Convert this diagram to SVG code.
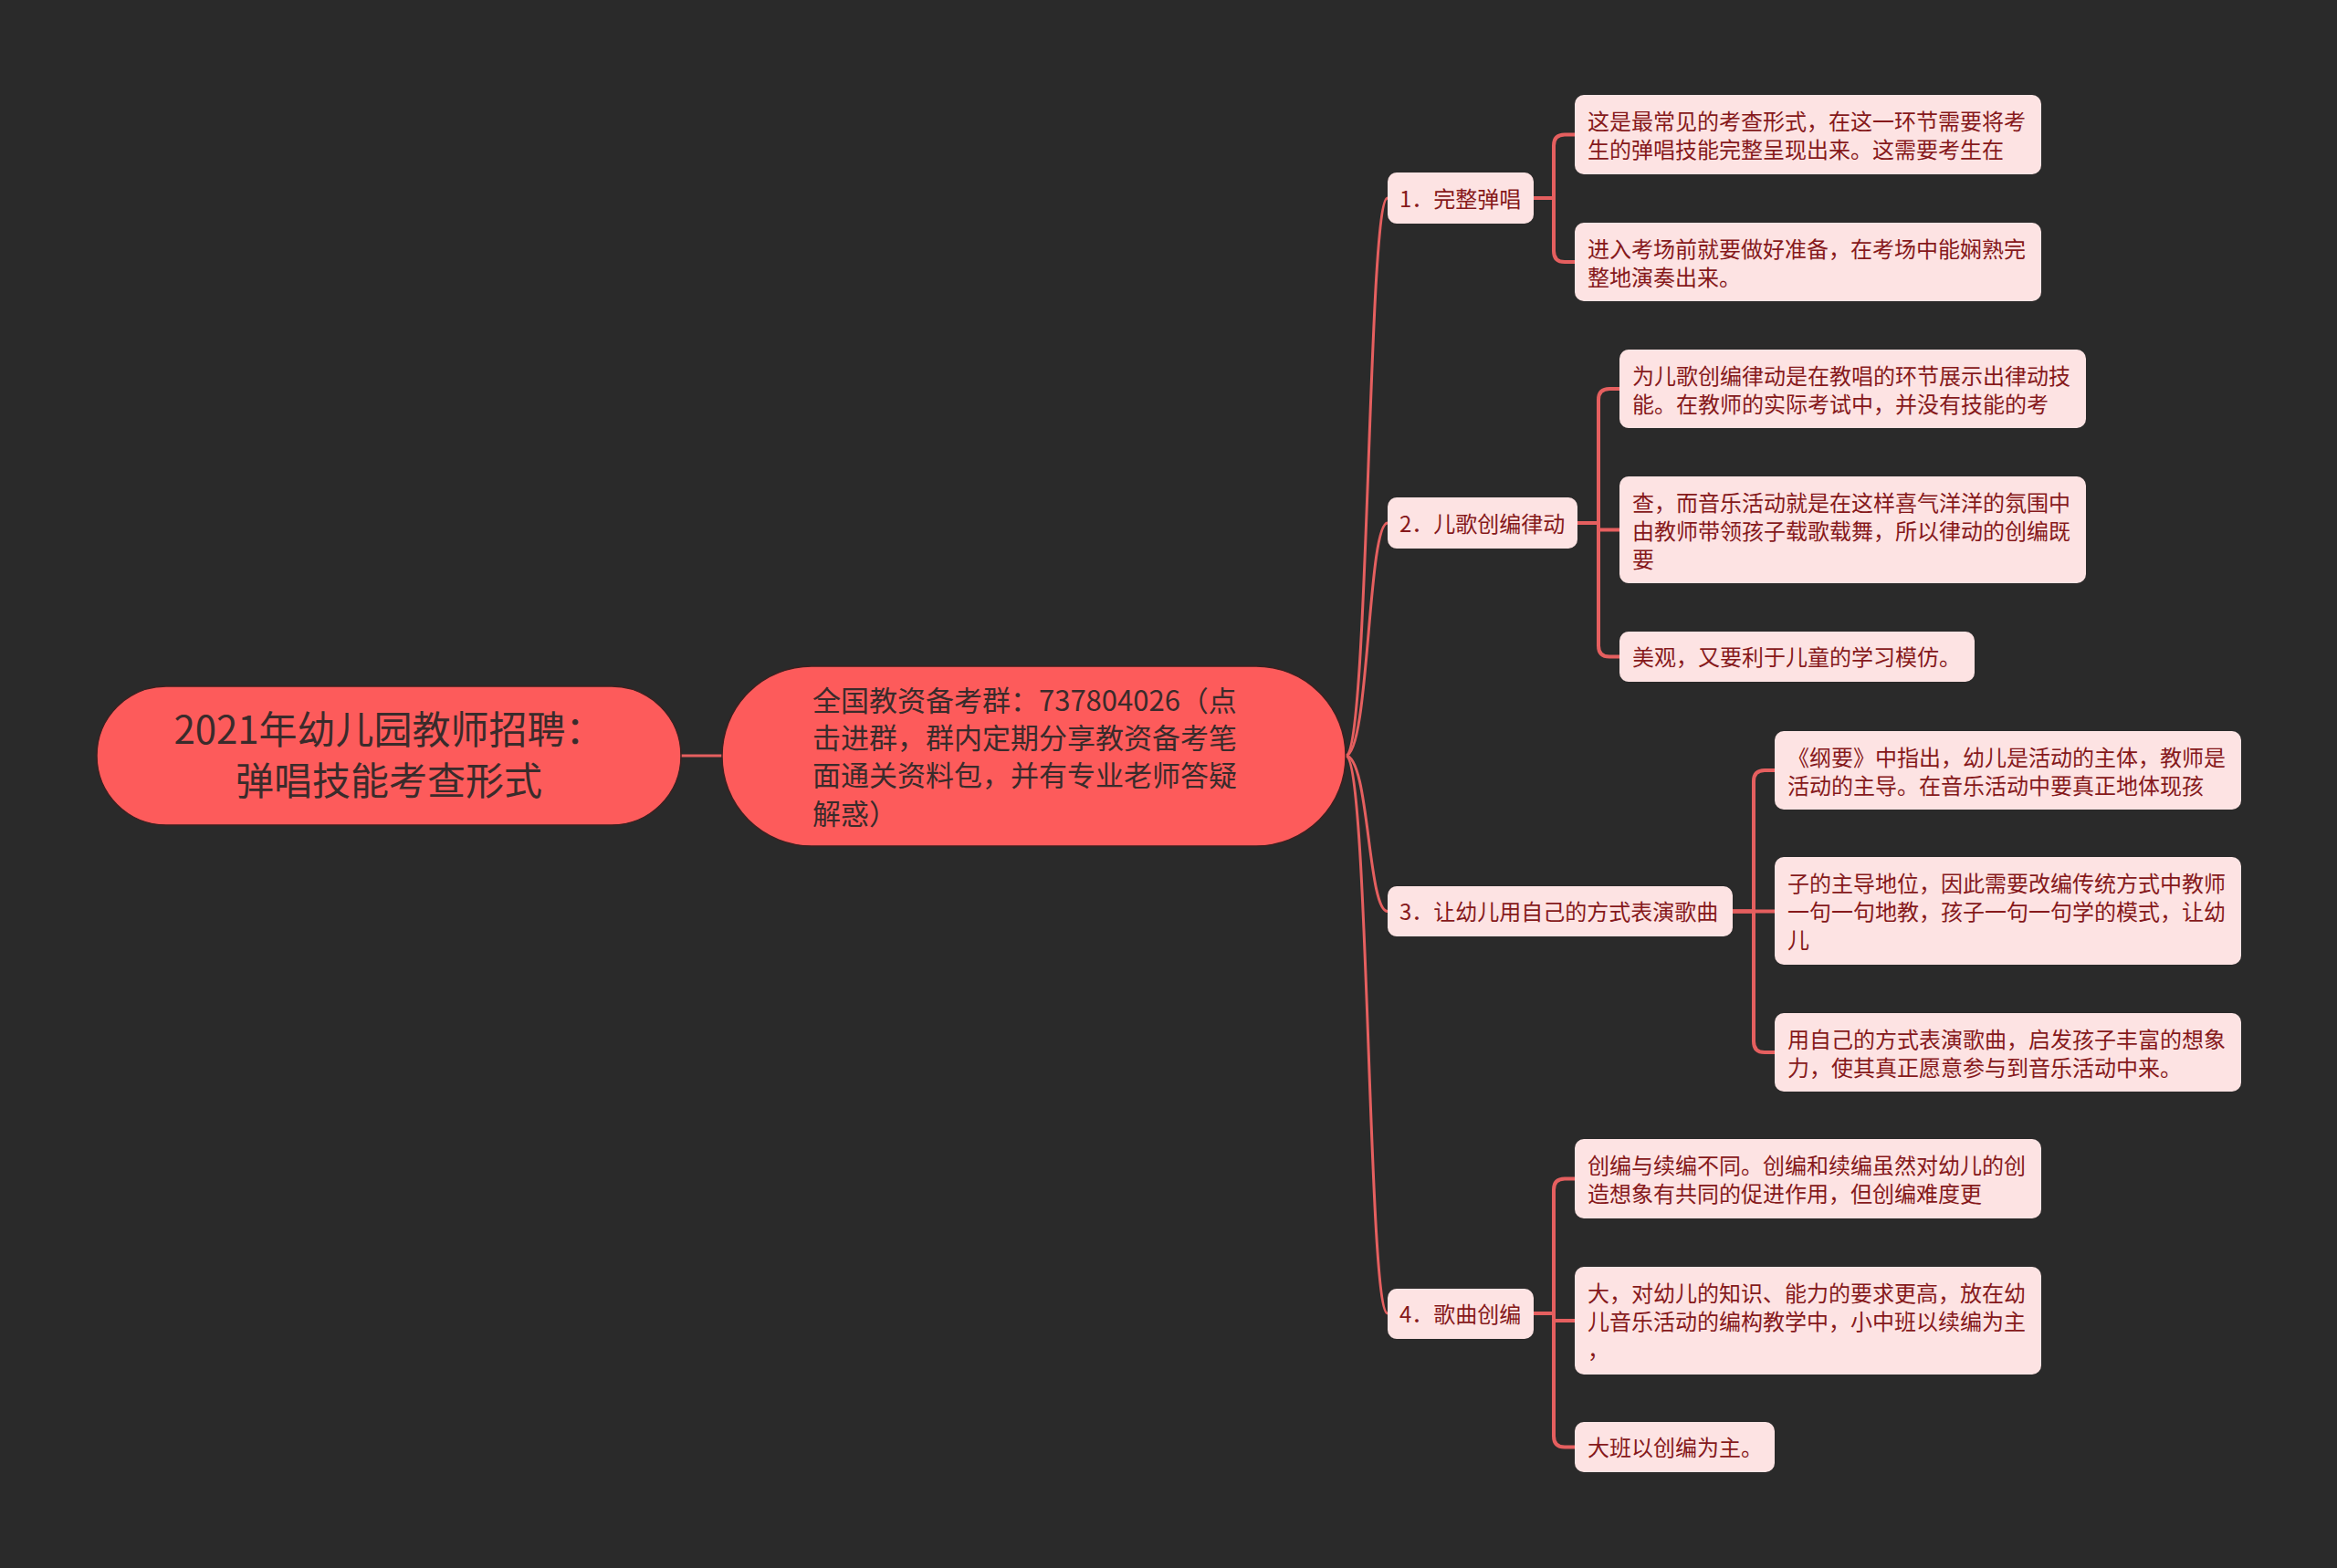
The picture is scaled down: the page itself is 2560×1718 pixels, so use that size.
<svg xmlns="http://www.w3.org/2000/svg" width="2560" height="1718" viewBox="0 0 2560 1718">
<style>
.bg{fill:#2a2a2a}
.main{fill:#fd5b5b;stroke:#3d2020;stroke-width:1.5}
.mt{font-family:"Noto Sans CJK SC","Noto Sans",sans-serif;fill:#3a2b2b}
.sub{fill:#fde3e3}
.st{font-family:"Noto Sans CJK SC","Noto Sans",sans-serif;font-size:24px;fill:#86191b}
.ln{fill:none;stroke:#e55f5f;stroke-width:3;stroke-linecap:round}
.br{fill:none;stroke:#e55f5f;stroke-width:4;stroke-linecap:round;stroke-linejoin:round}
</style>
<rect class="bg" x="0" y="0" width="2560" height="1718"/>
<g id="connectors">
<path class="ln" d="M746,828 H791"/>
<path class="ln" d="M1474,828 C1500,828 1498,217 1520,217"/>
<path class="ln" d="M1474,828 C1500,828 1498,573 1520,573"/>
<path class="ln" d="M1474,828 C1500,828 1498,998.5 1520,998.5"/>
<path class="ln" d="M1474,828 C1500,828 1498,1439 1520,1439"/>
<path class="br" d="M1680,217 H1702 V159.5 Q1702,147.5 1714,147.5 H1725"/>
<path class="br" d="M1680,217 H1702 V275 Q1702,287 1714,287 H1725"/>
<path class="br" d="M1728,573 H1751 V438 Q1751,426 1763,426 H1774"/>
<path class="br" d="M1728,573 H1751 V580.5 H1774"/>
<path class="br" d="M1728,573 H1751 V707.5 Q1751,719.5 1763,719.5 H1774"/>
<path class="br" d="M1898,998.5 H1921 V856 Q1921,844 1933,844 H1944"/>
<path class="br" d="M1898,998.5 H1944"/>
<path class="br" d="M1898,998.5 H1921 V1141 Q1921,1153 1933,1153 H1944"/>
<path class="br" d="M1680,1439 H1702 V1303.5 Q1702,1291.5 1714,1291.5 H1725"/>
<path class="br" d="M1680,1439 H1702 V1447 H1725"/>
<path class="br" d="M1680,1439 H1702 V1573.5 Q1702,1585.5 1714,1585.5 H1725"/>
</g>
<g id="root">
<rect class="main" x="106" y="752" width="640" height="152" rx="76"/>
<text class="mt" font-size="42" text-anchor="middle"><tspan x="426" y="814.5">2021年幼儿园教师招聘：</tspan><tspan x="426" y="870.5">弹唱技能考查形式</tspan></text>
</g>
<g id="center">
<rect class="main" x="791" y="730" width="683" height="197" rx="98"/>
<text class="mt" font-size="31"><tspan x="890" y="778.5">全国教资备考群：737804026（点</tspan><tspan x="890" y="820">击进群，群内定期分享教资备考笔</tspan><tspan x="890" y="861">面通关资料包，并有专业老师答疑</tspan><tspan x="890" y="902.5">解惑）</tspan></text>
</g>
<g id="n1">
<rect class="sub" x="1520" y="189" width="160" height="56" rx="10"/>
<text class="st" x="1533" y="227">1．完整弹唱</text>
</g>
<g id="n1a">
<rect class="sub" x="1725" y="104" width="511" height="87" rx="10"/>
<text class="st"><tspan x="1739" y="142">这是最常见的考查形式，在这一环节需要将考</tspan><tspan x="1739" y="173">生的弹唱技能完整呈现出来。这需要考生在</tspan></text>
</g>
<g id="n1b">
<rect class="sub" x="1725" y="244" width="511" height="86" rx="10"/>
<text class="st"><tspan x="1739" y="282">进入考场前就要做好准备，在考场中能娴熟完</tspan><tspan x="1739" y="313">整地演奏出来。</tspan></text>
</g>
<g id="n2">
<rect class="sub" x="1520" y="545" width="208" height="56" rx="10"/>
<text class="st" x="1533" y="583">2．儿歌创编律动</text>
</g>
<g id="n2a">
<rect class="sub" x="1774" y="383" width="511" height="86" rx="10"/>
<text class="st"><tspan x="1788" y="421">为儿歌创编律动是在教唱的环节展示出律动技</tspan><tspan x="1788" y="452">能。在教师的实际考试中，并没有技能的考</tspan></text>
</g>
<g id="n2b">
<rect class="sub" x="1774" y="522" width="511" height="117" rx="10"/>
<text class="st"><tspan x="1788" y="560">查，而音乐活动就是在这样喜气洋洋的氛围中</tspan><tspan x="1788" y="591">由教师带领孩子载歌载舞，所以律动的创编既</tspan><tspan x="1788" y="622">要</tspan></text>
</g>
<g id="n2c">
<rect class="sub" x="1774" y="692" width="389" height="55" rx="10"/>
<text class="st" x="1788" y="729">美观，又要利于儿童的学习模仿。</text>
</g>
<g id="n3">
<rect class="sub" x="1520" y="971" width="378" height="55" rx="10"/>
<text class="st" x="1533" y="1008">3．让幼儿用自己的方式表演歌曲</text>
</g>
<g id="n3a">
<rect class="sub" x="1944" y="801" width="511" height="86" rx="10"/>
<text class="st"><tspan x="1958" y="839">《纲要》中指出，幼儿是活动的主体，教师是</tspan><tspan x="1958" y="870">活动的主导。在音乐活动中要真正地体现孩</tspan></text>
</g>
<g id="n3b">
<rect class="sub" x="1944" y="939" width="511" height="118" rx="10"/>
<text class="st"><tspan x="1958" y="977">子的主导地位，因此需要改编传统方式中教师</tspan><tspan x="1958" y="1008">一句一句地教，孩子一句一句学的模式，让幼</tspan><tspan x="1958" y="1039">儿</tspan></text>
</g>
<g id="n3c">
<rect class="sub" x="1944" y="1110" width="511" height="86" rx="10"/>
<text class="st"><tspan x="1958" y="1148">用自己的方式表演歌曲，启发孩子丰富的想象</tspan><tspan x="1958" y="1179">力，使其真正愿意参与到音乐活动中来。</tspan></text>
</g>
<g id="n4">
<rect class="sub" x="1520" y="1412" width="160" height="55" rx="10"/>
<text class="st" x="1533" y="1449">4．歌曲创编</text>
</g>
<g id="n4a">
<rect class="sub" x="1725" y="1248" width="511" height="87" rx="10"/>
<text class="st"><tspan x="1739" y="1286">创编与续编不同。创编和续编虽然对幼儿的创</tspan><tspan x="1739" y="1317">造想象有共同的促进作用，但创编难度更</tspan></text>
</g>
<g id="n4b">
<rect class="sub" x="1725" y="1388" width="511" height="118" rx="10"/>
<text class="st"><tspan x="1739" y="1426">大，对幼儿的知识、能力的要求更高，放在幼</tspan><tspan x="1739" y="1457">儿音乐活动的编构教学中，小中班以续编为主</tspan><tspan x="1739" y="1488">，</tspan></text>
</g>
<g id="n4c">
<rect class="sub" x="1725" y="1558" width="219" height="55" rx="10"/>
<text class="st" x="1739" y="1595">大班以创编为主。</text>
</g>
</svg>
